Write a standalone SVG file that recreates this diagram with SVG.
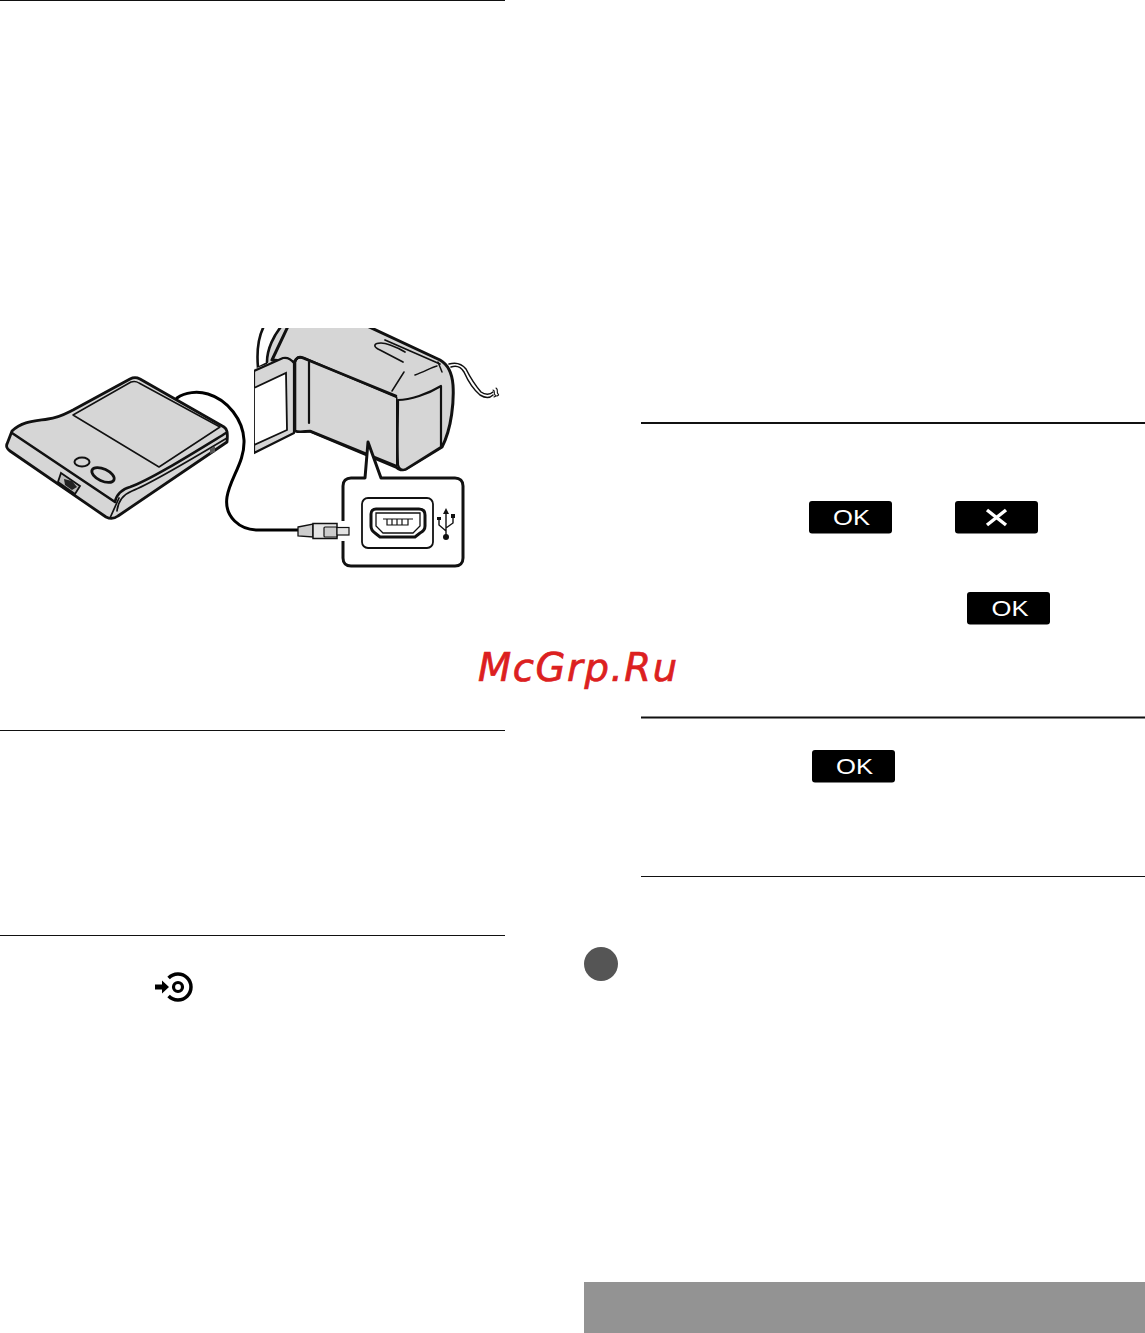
<svg xmlns="http://www.w3.org/2000/svg" width="1145" height="1333" viewBox="0 0 1145 1333">
<style>
.rule{stroke:#111;fill:none}
.btn{fill:#000}
.ok{font-family:"Liberation Sans",Arial,sans-serif;font-size:22px;fill:#fff;text-anchor:middle}
.g{fill:#d6d6d6;stroke:#111;stroke-linejoin:round;stroke-linecap:round}
.l{fill:none;stroke:#111;stroke-linejoin:round;stroke-linecap:round}
</style>
<defs><clipPath id="camclip"><rect x="254" y="328" width="250" height="150"/></clipPath></defs>
<rect width="1145" height="1333" fill="#fff"/>
<g id="rules">
<path class="rule" d="M0 .5H505M0 730.5H505M0 935.5H505M641 876.5H1145"/>
<path class="rule" stroke-width="2" d="M641 423H1145M641 717.5H1145"/>
</g>
<g id="camera" clip-path="url(#camclip)">
<path fill="#fff" stroke="#111" stroke-width="2.600" d="M268 320C260 330 256 345 258 368L270 362C268 348 275 335 288 322Z"/>
<path class="g" stroke-width="0" d="M285 322C273 335 267 350 267 364L254 369V376L296 360L300 350L370 322Z"/>
<path class="l" stroke-width="2.600" d="M285 322C273 335 267 350 267 362"/>
<path class="g" stroke-width="3" d="M295 362C296 358 299 356 303 358L396 398V467C400 471 402 470 406 469L442 447C452 428 454 400 453 385C452 372 447 364 440 360L365 325L290 322L272 360ZM295 362V430C300 433 306 431 310 431L396 467"/>
<path class="g" stroke-width="2.200" d="M254 371L283 358C288 357 291 359 294 363V433L254 453Z"/>
<path fill="#fff" stroke="#111" stroke-width="1.800" d="M254 388L286 373L287 430L254 445Z"/>
<path class="g" stroke-width="0" d="M296 362C298 359 300 358 304 359L396 398V467L310 430L296 432Z"/>
<path class="l" stroke-width="2.600" d="M295 362C296 358 299 356 303 358L396 396M295 362V431C300 433 306 431 310 431L396 466"/>
<path class="l" stroke-width="2.200" d="M309 362V423"/>
<path class="l" stroke-width="1.500" d="M404 372L392 391M415 375C424 372 432 367 437 366M438 362L442 372"/>
<path class="l" stroke-width="1.700" d="M403 362L380 350C373 347 373 343 381 343C385 343 395 346 405 352M385 340L440 364"/>
<path class="g" stroke-width="2.200" d="M398 400C410 400 428 394 441 386V447L406 469C402 471 399 469 398 465C397 445 398 420 398 400Z"/>
<path class="l" stroke-width="1.500" d="M449 364C456 362 462 364 466 369C470 377 475 385 481 392C485 395 490 395 493 392M451 367C457 365 461 367 464 372C468 381 474 390 480 395C485 398 490 398 493 395"/>
<path class="l" stroke-width="1.100" d="M493 390C496 391 493 393 495 395C497 396 496 396 494 397M496 388C499 390 496 392 498 394C499 395 499 395 497 396"/>
</g>
<g id="dock">
<path class="g" stroke-width="2.800" d="M12 431C22 421 35 421 48 419C58 418 65 414 73 410L130 379C134 377 136 377 140 379L224 427C227 429 228 432 227 442L118 516C114 519 110 519 106 517L10 451C7 449 6 446 7 444Z"/>
<path class="l" stroke-width="2.600" d="M12 433L115 502C116 495 122 489 130 487C150 480 190 455 226 433"/>
<path class="l" stroke-width="1.700" d="M117 511C118 502 122 495 132 491C150 484 192 459 227 438M110 518L119 498"/>
<path class="g" stroke-width="1.500" d="M73 415L131 382C134 381 136 381 139 383L220 427L159 467Z"/>
<ellipse class="g" cx="82" cy="462" rx="7.500" ry="4.500" stroke-width="2"/>
<ellipse class="g" cx="103" cy="475" rx="12" ry="6" transform="rotate(25 103 475)" stroke-width="2.800"/>
<path fill="#bbb" stroke="#111" stroke-width="1.800" d="M61 473L80 486L75 494L58 482Z"/>
<path fill="#222" d="M64 479L72 481L77 487L72 490L65 485Z"/>
<path fill="#555" d="M210 449L215 446V452L210 454Z"/>
</g>
<g id="connectors">
<path fill="none" stroke="#000" stroke-width="3" stroke-linecap="round" d="M177 398C185 392 198 391 208 394C228 400 243 420 244 440C245 462 230 478 227 497C224 517 240 530 258 530H298"/>
</g>
<g id="callout">
<path fill="#fff" stroke="#111" stroke-width="3" stroke-linejoin="round" d="M365 478L368 442L381 478H455C460 478 463 481 463 486V558C463 563 460 566 455 566H351C346 566 343 563 343 558V486C343 481 346 478 351 478Z"/>
<rect x="362" y="498" width="71" height="50" rx="6" fill="#fff" stroke="#111" stroke-width="1.800"/>
<path fill="#fff" stroke="#111" stroke-width="3" d="M376 509H419C423 509 425 511 425 515V526C425 529 424 531 420 533L415 537H380L375 533C372 531 371 529 371 526V514C371 511 373 509 376 509Z"/>
<path fill="none" stroke="#111" stroke-width="1.300" d="M376 513H420V526L413 533H383L376 526Z"/>
<path fill="none" stroke="#111" stroke-width="1.200" d="M383 519H413M387 519V525H392V519M392 525H397V519M397 525H402V519M402 525H408V519"/>
<path fill="none" stroke="#111" stroke-width="1.400" d="M446 512V537M439 519V525L446 531M453 517V523L446 528"/>
<path fill="#111" d="M446 508L449 514H443ZM451 514H455V518H451ZM437 517H441V520H437Z"/>
<circle cx="446" cy="537" r="3" fill="#111"/>
<rect x="339" y="521" width="8" height="20" fill="#fff"/>
</g>
<g id="plug">
<path fill="#ccc" stroke="#111" stroke-width="1.300" d="M298 527L313 524V537L298 536Z"/>
<rect x="313" y="523.500" width="24" height="15" fill="#e4e4e4" stroke="#111" stroke-width="1.500"/>
<rect x="324" y="527" width="13" height="10" rx="1" fill="#ccc" stroke="#111" stroke-width="1.200"/>
<rect x="337" y="527.500" width="12" height="7.500" fill="#e4e4e4" stroke="#111" stroke-width="1.200"/>
</g>
<g id="btn-ok-1"><rect class="btn" x="809" y="501" width="83" height="32.500" rx="3"/><text class="ok" x="851.500" y="525" textLength="37" lengthAdjust="spacingAndGlyphs">OK</text></g>
<g id="btn-x"><rect class="btn" x="955" y="501" width="83" height="32.500" rx="3"/><path stroke="#fff" stroke-width="3.500" d="M987 510L1006 525M1006 510L987 525"/></g>
<g id="btn-ok-2"><rect class="btn" x="967" y="592" width="83" height="32.500" rx="3"/><text class="ok" x="1010" y="616" textLength="37" lengthAdjust="spacingAndGlyphs">OK</text></g>
<g id="btn-ok-3"><rect class="btn" x="812" y="750" width="83" height="32.500" rx="3"/><text class="ok" x="854.500" y="774" textLength="37" lengthAdjust="spacingAndGlyphs">OK</text></g>
<g id="disc-icon">
<path fill="none" stroke="#000" stroke-width="3.500" d="M168.600 978A13 13 0 1 1 168.600 996"/>
<circle cx="178" cy="987" r="4.500" fill="none" stroke="#000" stroke-width="3.200"/>
<path fill="#000" d="M155 984.500H162V980.500L169 987L162 993.500V989.500H155Z"/>
</g>
<g id="bullet"><circle cx="601" cy="964" r="17" fill="#555"/></g>
<g id="watermark"><text x="478" y="681" font-family="'DejaVu Sans',sans-serif" font-style="oblique" font-size="38.500" letter-spacing="1.600" fill="#dc2020" stroke="#dc2020" stroke-width=".7">McGrp.Ru</text></g>
<g id="footer"><rect x="584" y="1282" width="561" height="51" fill="#939393"/></g>
</svg>
